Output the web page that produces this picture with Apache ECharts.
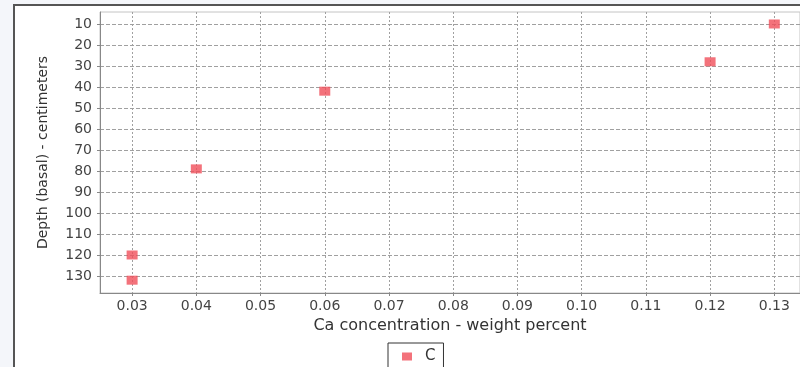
<!DOCTYPE html>
<html>
<head>
<meta charset="utf-8">
<script src="https://cdn.jsdelivr.net/npm/echarts@6/dist/echarts.min.js"></script>
<style>
  html, body { margin: 0; padding: 0; background: #f4f6fa; }
  #chart { width: 800px; height: 367px; }
</style>
</head>
<body>
<div id="chart"></div>
<script>
// data
const seriesName = "C";
const caPercent = [0.13, 0.12, 0.06, 0.04, 0.03, 0.03];
const depthCm = [10, 28, 42, 79, 120, 132];
const xTicks = [0.03, 0.04, 0.05, 0.06, 0.07, 0.08, 0.09, 0.10, 0.11, 0.12, 0.13];
const yTicks = [10, 20, 30, 40, 50, 60, 70, 80, 90, 100, 110, 120, 130];

const points = caPercent.map((x, i) => [x, depthCm[i]]);

const chart = echarts.init(document.getElementById("chart"));

const font = "DejaVu Sans";

const option = {
  backgroundColor: "#f4f6fa",
  animation: false,
  graphic: [
    {
      type: "rect",
      z: -1,
      shape: { x: 14, y: 5, width: 800, height: 400 },
      style: { fill: "#ffffff", stroke: "#555555", lineWidth: 2 },
    },
  ],
  grid: {
    left: 100,
    top: 12,
    right: 0,
    bottom: 74,
    show: true,
    borderColor: "#c4c4c4",
    borderWidth: 1,
    backgroundColor: "#ffffff",
  },
  legend: {
    left: 388,
    top: 343,
    data: [seriesName],
    icon: "rect",
    itemWidth: 10,
    itemHeight: 8,
    padding: [6, 8, 8, 14],
    borderColor: "#333",
    borderWidth: 1,
    textStyle: { fontFamily: font, fontSize: 15, color: "#333", padding: [0, 0, 0, 8] },
  },
  xAxis: {
    type: "value",
    min: 0.025,
    max: 0.134,
    name: "Ca concentration - weight percent",
    nameLocation: "middle",
    nameGap: 25,
    nameTextStyle: { fontFamily: font, fontSize: 16, color: "#333" },
    axisLine: { show: true, lineStyle: { color: "#888", width: 1 } },
    axisTick: { show: true, length: 3, customValues: xTicks, lineStyle: { color: "#888" } },
    axisLabel: {
      customValues: xTicks,
      formatter: (v) => v.toFixed(2),
      fontFamily: font,
      fontSize: 14,
      color: "#444",
      margin: 6,
    },
    splitLine: { show: true, lineStyle: { color: "#a0a0a0", width: 1, type: [2, 2] } },
  },
  yAxis: {
    type: "value",
    inverse: true,
    min: 4.3,
    max: 138.1,
    name: "Depth (basal) - centimeters",
    nameLocation: "middle",
    nameGap: 50,
    nameTextStyle: { fontFamily: font, fontSize: 14, color: "#333" },
    axisLine: { show: true, lineStyle: { color: "#888", width: 1 } },
    axisTick: { show: true, length: 3, customValues: yTicks, lineStyle: { color: "#888" } },
    axisLabel: {
      customValues: yTicks,
      fontFamily: font,
      fontSize: 14,
      color: "#444",
      margin: 8,
    },
    splitLine: { show: true, lineStyle: { color: "#a0a0a0", width: 1, type: [4, 2] } },
  },
  series: [
    {
      name: seriesName,
      type: "scatter",
      symbol: "rect",
      symbolSize: [11, 9],
      itemStyle: { color: "#f04f5a" },
      data: points,
    },
  ],
};

chart.setOption(option);
</script>
</body>
</html>
